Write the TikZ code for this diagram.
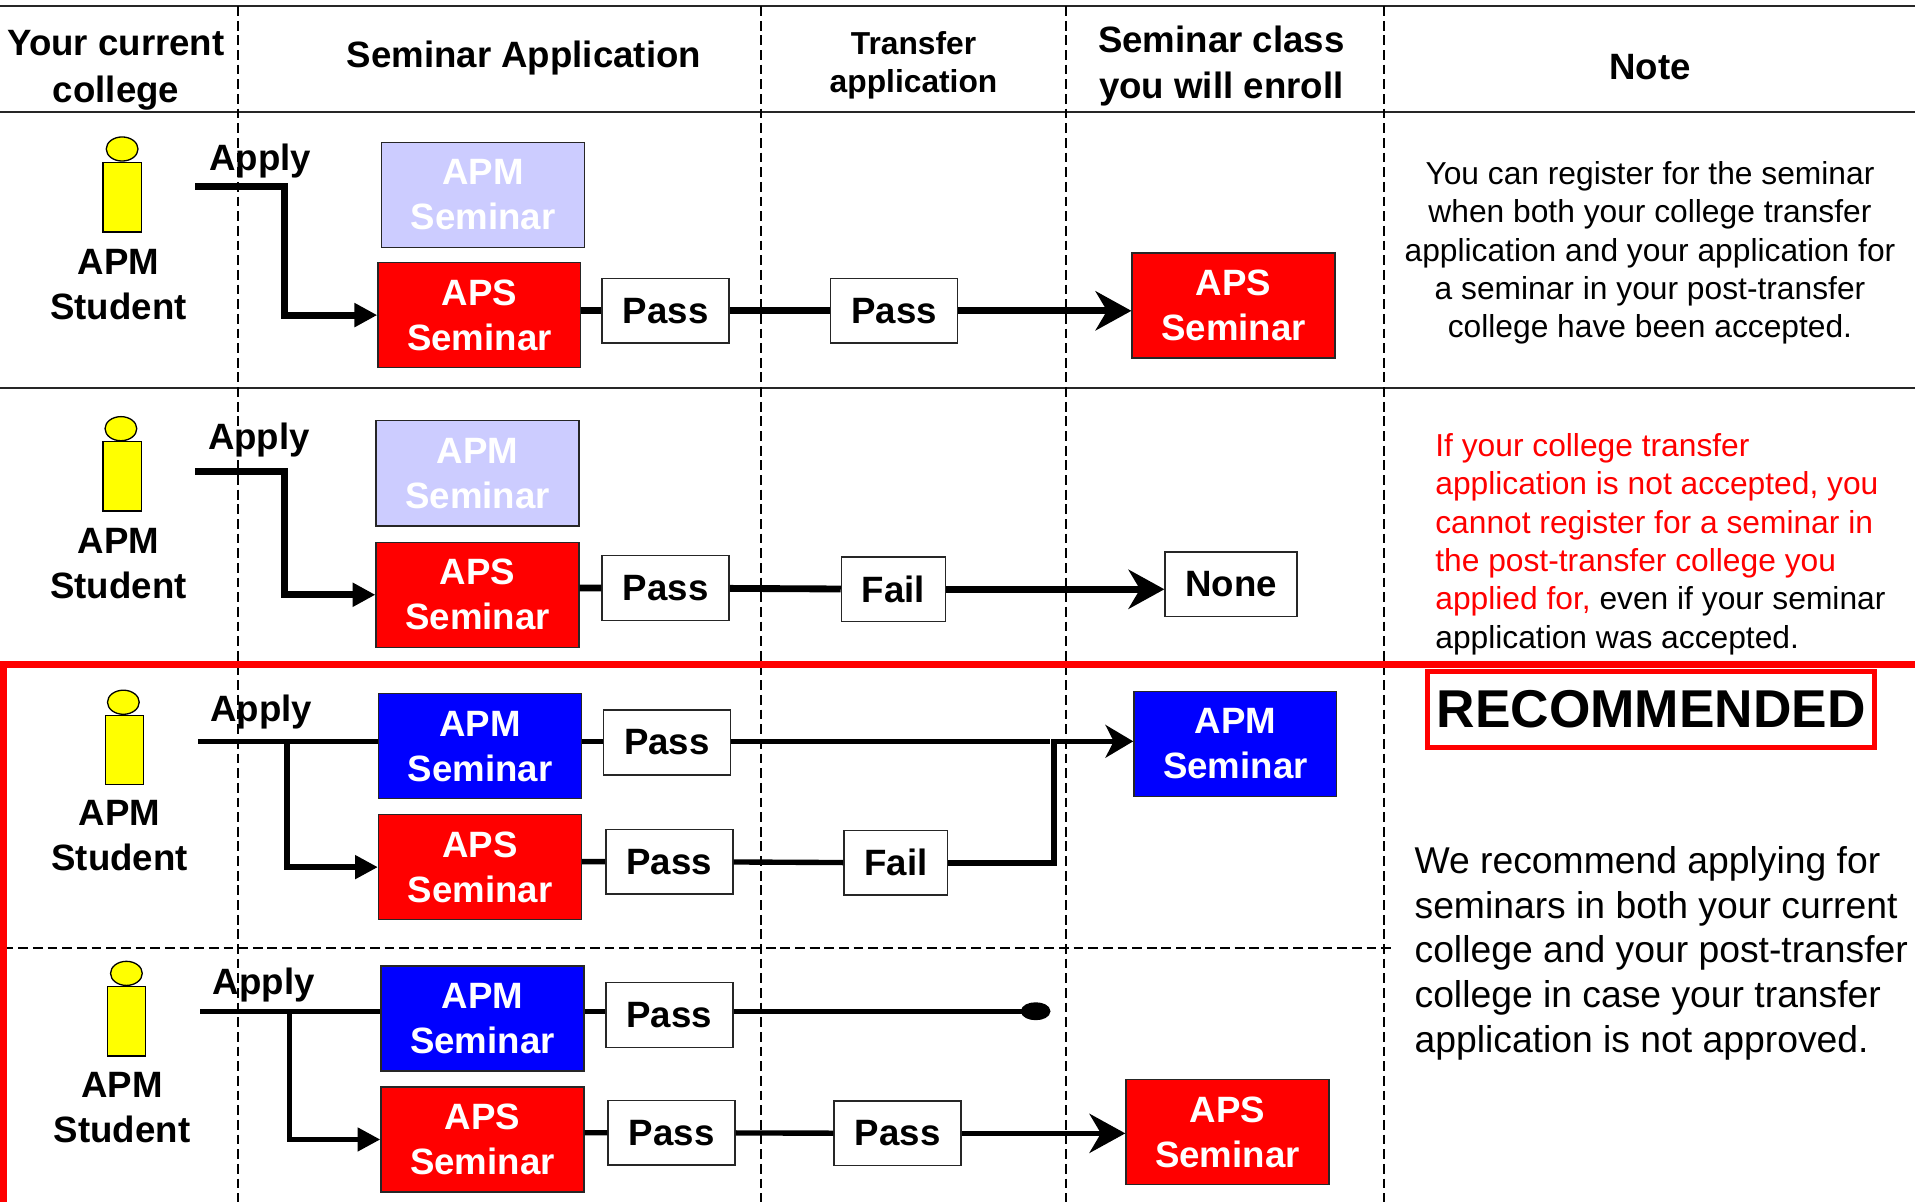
\documentclass[tikz,border=0pt]{standalone}
\usepackage{fontspec}
\setmainfont{Liberation Sans}
\usepackage{tikz}
\usetikzlibrary{arrows.meta,shapes.geometric}

\definecolor{apmpale}{HTML}{CCCCFF}
\definecolor{apmblue}{HTML}{0000FF}
\definecolor{apsred}{HTML}{FF0000}
\definecolor{stickyellow}{HTML}{FFFF00}

\newcommand\headfont{\bfseries\fontsize{22.5}{28.5}\selectfont}
\newcommand\boxfont{\bfseries\fontsize{22.5}{27.75}\selectfont}
\newcommand\smallhead{\bfseries\fontsize{19.5}{23.25}\selectfont}
\newcommand\notefont{\fontsize{19.5}{23.6}\selectfont}
\newcommand\recfont{\fontsize{22.9}{27.5}\selectfont}
\newcommand\stampfont{\bfseries\fontsize{32.7}{36}\selectfont}

\begin{document}
\begin{tikzpicture}[x=0.75pt, y=-0.75pt,
    seminar/.style={draw=black!85, line width=0.9pt, minimum width=124.5pt, minimum height=64.5pt, inner sep=0pt, align=center, text=white, font=\boxfont},
    result/.style={draw=black!85, fill=white, line width=0.9pt, minimum height=39.75pt, inner sep=0pt, font=\boxfont},
    head/.style={ellipse, draw, fill=stickyellow, line width=0.8pt, minimum width=19.5pt, minimum height=14.8pt, inner sep=0pt},
    torso/.style={rectangle, draw, fill=stickyellow, line width=0.8pt, minimum width=23.5pt, minimum height=42.6pt, inner sep=0pt},
    tag/.style={inner sep=0pt, align=center, font=\boxfont},
    flow/.style={line width=4.2pt},
    flowthin/.style={line width=3.3pt},
    branch/.style={-{Triangle[length=14pt,width=14pt]}},
    into/.style={-{Stealth[length=22pt,width=24pt,inset=7pt]}},
    rule/.style={line width=1.2pt, black!85},
    lane/.style={line width=1pt, dash pattern=on 6pt off 3pt}]

    \useasboundingbox (0,0) rectangle (1568,984);

    % Table
    \draw [rule] (0,5) -- (1568,5);
    \draw [rule] (0,92) -- (1568,92);
    \draw [rule] (0,318) -- (1568,318);
    \foreach \x in {195,623,873,1133}
        \draw [lane] (\x,5) -- (\x,984);
    \draw [lane] (3,776) -- (1140,776);

    % Header {current, application, transfer, enroll, note}
    \node [tag, font=\headfont]   (hcur)   at (95,57.5)  {Your current\\college};
    \node [tag]                   (happ)   at (429,47.5) {Seminar Application};
    \node [tag, font=\smallhead]  (htra)   at (748,53.5) {Transfer\\application};
    \node [tag, font=\headfont]   (henr)   at (1000,54)  {Seminar class\\you will enroll};
    \node [tag]                   (hnote)  at (1351,55)  {Note};

    % Students
    \node [head]  (h1) at (100,122)   {};
    \node [torso] (b1) at (100,161.5) {};
    \node [tag]   (st1) at (97,233)   {APM\\Student};
    \node [head]  (h2) at (99,351)    {};
    \node [torso] (b2) at (100,390)   {};
    \node [tag]   (st2) at (97,461.5) {APM\\Student};
    \node [head]  (h3) at (101,575)   {};
    \node [torso] (b3) at (102,614)   {};
    \node [tag]   (st3) at (98,684)   {APM\\Student};
    \node [head]  (h4) at (103.5,797) {};
    \node [torso] (b4) at (103.7,836.3) {};
    \node [tag]   (st4) at (100,907)  {APM\\Student};

    \node [tag, anchor=base] (ap1) at (213,140) {Apply};
    \node [tag, anchor=base] (ap2) at (212,368) {Apply};
    \node [tag, anchor=base] (ap3) at (214,591) {Apply};
    \node [tag, anchor=base] (ap4) at (216,814) {Apply};

    % Nodes {apm, aps, pass, transfer, out}
    \node [seminar, fill=apmpale] (apm1)  at (395.5,159.5) {APM\\Seminar};
    \node [seminar, fill=apsred]  (aps1)  at (392.5,258)   {APS\\Seminar};
    \node [result, minimum width=78pt]    (pass1) at (545,254.5)  {Pass};
    \node [result, minimum width=78pt]    (tr1)   at (732,254.5)  {Pass};
    \node [seminar, fill=apsred]  (out1)  at (1010,250)    {APS\\Seminar};

    \node [seminar, fill=apmpale] (apm2)  at (391,387.5)   {APM\\Seminar};
    \node [seminar, fill=apsred]  (aps2)  at (391,487)     {APS\\Seminar};
    \node [result, minimum width=78pt]    (pass2) at (545,481.5)  {Pass};
    \node [result, minimum width=63.75pt] (tr2)   at (731.5,482.5) {Fail};
    \node [result, minimum width=81pt]    (out2)  at (1008,478.5) {None};

    \node [seminar, fill=apmblue] (apm3)  at (393,611)     {APM\\Seminar};
    \node [seminar, fill=apsred]  (aps3)  at (393,710)     {APS\\Seminar};
    \node [result, minimum width=78pt]    (pass3)  at (546,608)   {Pass};
    \node [result, minimum width=78pt]    (pass3b) at (548,705.5) {Pass};
    \node [result, minimum width=63.75pt] (tr3)    at (733.5,706.5) {Fail};
    \node [seminar, fill=apmblue] (out3)  at (1011.5,609)  {APM\\Seminar};

    \node [seminar, fill=apmblue] (apm4)  at (395,834)     {APM\\Seminar};
    \node [seminar, fill=apsred]  (aps4)  at (395,933)     {APS\\Seminar};
    \node [result, minimum width=78pt]    (pass4)  at (548,831)   {Pass};
    \node [result, minimum width=78pt]    (pass4b) at (550,927.5) {Pass};
    \node [result, minimum width=78pt]    (tr4)    at (735,928)   {Pass};
    \node [seminar, fill=apsred]  (out4)  at (1005,927)    {APS\\Seminar};

    % Notes
    \node [tag, font=\notefont] (note1) at (1351,207)
        {You can register for the seminar\\when both your college transfer\\application and your application for\\a seminar in your post-transfer\\college have been accepted.};
    \node [tag, font=\notefont, align=left, anchor=west] (note2) at (1175,445.5)
        {\textcolor{apsred}{If your college transfer}\\
         \textcolor{apsred}{application is not accepted, you}\\
         \textcolor{apsred}{cannot register for a seminar in}\\
         \textcolor{apsred}{the post-transfer college you}\\
         \textcolor{apsred}{applied for,} even if your seminar\\
         application was accepted.};
    \node [draw=apsred, line width=2.8pt, minimum width=274.5pt, minimum height=46.5pt, inner sep=0pt, font=\stampfont] (stamp) at (1352,581) {RECOMMENDED};
    \node [tag, font=\recfont, align=left, anchor=west] (note3) at (1158,780.5)
        {We recommend applying for\\seminars in both your current\\college and your post-transfer\\college in case your transfer\\application is not approved.};

    % Frame
    \draw [apsred, line width=4.5pt] (1568,544) -- (3,544) -- (3,984);

    % Paths
    \coordinate (s1) at (160,153);
    \coordinate (k1) at (233,153);
    \draw [flow, branch] (s1) -- (k1) |- (aps1.west);
    \draw [flow] (aps1.east |- pass1) -- (pass1) -- (tr1);
    \draw [flow, into] (tr1) -- (tr1 -| out1.west);

    \coordinate (s2) at (160,386);
    \coordinate (k2) at (233,386);
    \draw [flow, branch] (s2) -- (k2) |- (aps2.west);
    \draw [flow] (aps2.east |- pass2) -- (pass2) -- (tr2);
    \draw [flow, into] (tr2) -- (tr2 -| out2.west);

    \coordinate (s3) at (162,607);
    \coordinate (k3) at (235,607);
    \coordinate (j3) at (860,607);
    \coordinate (r3) at (863,607);
    \draw [flowthin] (s3) -- (apm3.west |- s3);
    \draw [flowthin, branch] (k3) |- (aps3.west);
    \draw [flowthin] (apm3.east |- j3) -- (pass3.west |- j3);
    \draw [flowthin] (pass3.east |- j3) -- (j3);
    \draw [flowthin] (aps3.east |- pass3b) -- (pass3b) -- (tr3);
    \draw [flowthin, -{Stealth[length=17pt,width=20pt,inset=5pt]}] (tr3) -| (r3) -- (r3 -| out3.west);

    \coordinate (s4) at (164,828);
    \coordinate (k4) at (237,828);
    \coordinate (d4) at (860,828);
    \draw [flowthin] (s4) -- (apm4.west |- s4);
    \draw [flowthin, branch] (k4) |- (aps4.west);
    \draw [flowthin] (apm4.east |- d4) -- (pass4.west |- d4);
    \draw [flowthin, -{Ellipse[length=18pt,width=11pt]}] (pass4.east |- d4) -- (d4);
    \draw [flowthin] (aps4.east |- pass4b) -- (pass4b) -- (tr4);
    \draw [flowthin, into] (tr4) -- (tr4 -| out4.west);

\end{tikzpicture}
\end{document}
